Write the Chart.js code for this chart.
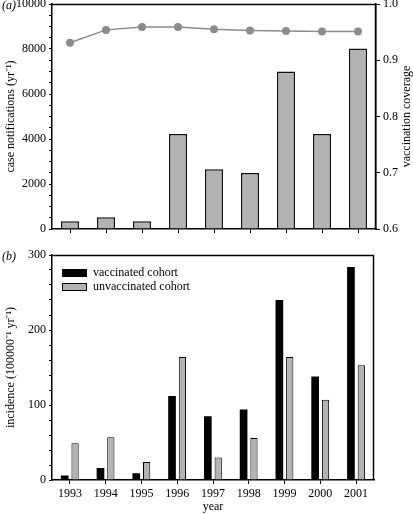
<!DOCTYPE html>
<html>
<head>
<meta charset="utf-8">
<script src="https://cdn.jsdelivr.net/npm/chart.js@4.4.1/dist/chart.umd.min.js"></script>
<style>
  html, body { margin: 0; padding: 0; background: #fff; }
  #wrap1 { position: absolute; left: 0; top: 0; width: 413px; height: 246px; }
  #wrap2 { position: absolute; left: 0; top: 246px; width: 413px; height: 268px; }
</style>
</head>
<body>
<div id="wrap1"><canvas id="chart1"></canvas></div>
<div id="wrap2"><canvas id="chart2"></canvas></div>
<script>
// data
const years = ['1993', '1994', '1995', '1996', '1997', '1998', '1999', '2000', '2001'];
const caseNotifications = [350, 520, 350, 4220, 2660, 2490, 7000, 4220, 8020];
const vaccinationCoverage = [0.931, 0.954, 0.959, 0.959, 0.955, 0.953, 0.952, 0.951, 0.951];
const vaccinatedIncidence = [6, 16, 9, 112, 85, 94, 240, 138, 284];
const unvaccinatedIncidence = [49, 57, 24, 164, 30, 56, 164, 107, 153];

Chart.defaults.font.family = "'Liberation Serif', 'Times New Roman', serif";
Chart.defaults.font.size = 12;
Chart.defaults.color = '#000';
Chart.defaults.animation = false;

const GREY = '#b3b3b3';

// box around plot area, panel letter, extra rotated title
const extras = {
  id: 'extras',
  afterDraw(chart, args, opts) {
    const ctx = chart.ctx;
    const a = chart.chartArea;
    ctx.save();
    ctx.strokeStyle = '#000';
    ctx.lineWidth = 1.5;
    ctx.beginPath();
    ctx.moveTo(a.left, a.top + 0.5);
    ctx.lineTo(a.right, a.top + 0.5);
    ctx.moveTo(a.right - 0.5, a.top);
    ctx.lineTo(a.right - 0.5, a.bottom);
    ctx.stroke();

    ctx.fillStyle = '#000';
    ctx.font = "italic 12px 'Liberation Serif', serif";
    ctx.textBaseline = 'middle';
    ctx.textAlign = 'left';
    ctx.fillText(opts.label, opts.lx, opts.ly);

    if (opts.rightTitle) {
      ctx.font = "12px 'Liberation Serif', serif";
      ctx.translate(opts.rx, (a.top + a.bottom) / 2);
      ctx.rotate(-Math.PI / 2);
      ctx.textAlign = 'center';
      ctx.fillText(opts.rightTitle, 0, 0);
    }
    ctx.restore();
  }
};

// legend inside panel (b)
const insideLegend = {
  id: 'insideLegend',
  afterDraw(chart, args, opts) {
    if (!opts.show) return;
    const ctx = chart.ctx;
    const a = chart.chartArea;
    ctx.save();
    ctx.font = "12px 'Liberation Serif', serif";
    ctx.textBaseline = 'middle';
    chart.data.datasets.forEach((ds, i) => {
      const x = a.left + 10;
      const y = a.top + 14 + i * 14;
      ctx.fillStyle = ds.backgroundColor;
      ctx.fillRect(x, y, 25, 8);
      ctx.strokeStyle = '#000';
      ctx.lineWidth = 1;
      ctx.strokeRect(x + 0.5, y + 0.5, 24, 7);
      ctx.fillStyle = '#000';
      ctx.fillText(ds.label, x + 31, y + 4);
    });
    ctx.restore();
  }
};

const chart1 = new Chart(document.getElementById('chart1'), {
  type: 'bar',
  plugins: [extras],
  data: {
    labels: years,
    datasets: [
      {
        type: 'line',
        label: 'vaccination coverage',
        data: vaccinationCoverage,
        yAxisID: 'y1',
        borderColor: '#8c8c8c',
        borderWidth: 1.5,
        pointRadius: 4,
        pointBackgroundColor: '#8c8c8c',
        pointBorderWidth: 0,
      },
      {
        label: 'case notifications',
        data: caseNotifications,
        backgroundColor: GREY,
        borderColor: '#111',
        borderWidth: 1.5,
        categoryPercentage: 1,
        barPercentage: 0.5,
      },
    ],
  },
  options: {
    responsive: true,
    maintainAspectRatio: false,
    layout: { padding: { top: 4, left: 0, right: 0, bottom: 0 } },
    plugins: {
      legend: { display: false },
      tooltip: { enabled: false },
      extras: { label: '(a)', lx: 2, ly: 6, rightTitle: 'vaccination coverage', rx: 407 },
    },
    scales: {
      x: {
        grid: { drawOnChartArea: false, offset: false, tickLength: 4, color: '#000' },
        border: { color: '#000', width: 1.5 },
        ticks: { callback: () => '' },
        afterFit: (s) => { s.height = 17; },
      },
      y: {
        position: 'left',
        min: 0,
        max: 10000,
        ticks: { stepSize: 500, autoSkip: false, padding: 3, callback: (v) => (v % 2000 === 0 ? v : '') },
        grid: { drawOnChartArea: false, tickLength: 3, color: '#000' },
        border: { color: '#000', width: 1.5 },
        title: { display: true, text: 'case notifications (yr⁻¹)' },
        afterFit: (s) => { s.width = 52; s.paddingTop = 0; s.paddingBottom = 0; },
      },
      y1: {
        position: 'right',
        min: 0.6,
        max: 1.0,
        ticks: { stepSize: 0.1, padding: 3, callback: (v) => v.toFixed(1) },
        grid: { drawOnChartArea: false, tickLength: 4, color: '#000' },
        border: { color: '#000', width: 1.5 },
        afterFit: (s) => { s.width = 37; s.paddingTop = 0; s.paddingBottom = 0; },
      },
    },
  },
});

const chart2 = new Chart(document.getElementById('chart2'), {
  type: 'bar',
  plugins: [extras, insideLegend],
  data: {
    labels: years,
    datasets: [
      {
        label: 'vaccinated cohort',
        data: vaccinatedIncidence,
        backgroundColor: '#000',
        borderColor: '#000',
        borderWidth: 0,
        categoryPercentage: 0.58,
        barPercentage: 0.74,
      },
      {
        label: 'unvaccinated cohort',
        data: unvaccinatedIncidence,
        backgroundColor: GREY,
        borderColor: '#000',
        borderWidth: 1,
        categoryPercentage: 0.58,
        barPercentage: 0.7,
      },
    ],
  },
  options: {
    responsive: true,
    maintainAspectRatio: false,
    layout: { padding: { top: 9, left: 0, right: 39, bottom: 0 } },
    plugins: {
      legend: { display: false },
      tooltip: { enabled: false },
      extras: { label: '(b)', lx: 2, ly: 11 },
      insideLegend: { show: true },
    },
    scales: {
      x: {
        grid: { drawOnChartArea: false, offset: false, tickLength: 4, color: '#000' },
        border: { color: '#000', width: 1.5 },
        ticks: { padding: 3, maxRotation: 0 },
        title: { display: true, text: 'year', padding: { top: 0, bottom: 0 } },
        afterFit: (s) => { s.height = 34; },
      },
      y: {
        min: 0,
        max: 300,
        ticks: { stepSize: 20, autoSkip: false, padding: 3, callback: (v) => (v % 100 === 0 ? v : '') },
        grid: { drawOnChartArea: false, tickLength: 3, color: '#000' },
        border: { color: '#000', width: 1.5 },
        title: { display: true, text: 'incidence (100000⁻¹ yr⁻¹)' },
        afterFit: (s) => { s.width = 52; s.paddingTop = 0; s.paddingBottom = 0; },
      },
    },
  },
});
</script>
</body>
</html>
